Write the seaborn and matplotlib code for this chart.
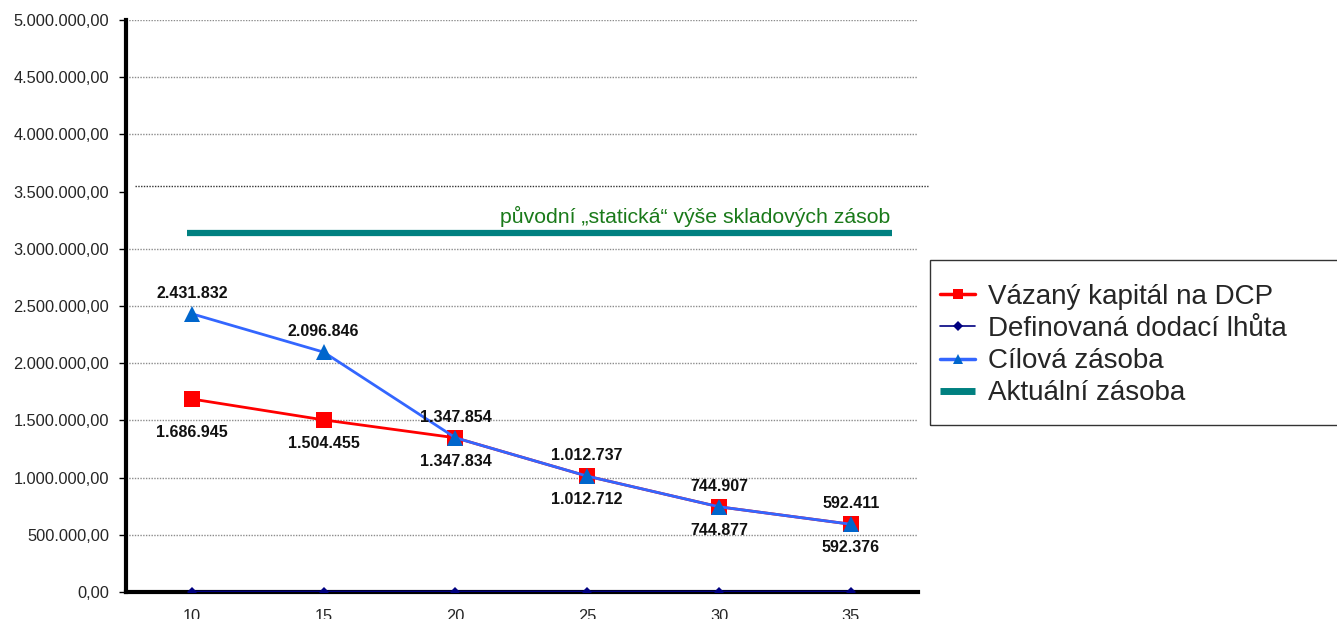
import matplotlib
matplotlib.use("Agg")
import matplotlib.pyplot as plt
from matplotlib.lines import Line2D
from matplotlib.patches import Rectangle
import seaborn as sns
import pandas as pd
import numpy as np

categories = ["10", "15", "20", "25", "30", "35"]
vazany_kapital = [1686945, 1504455, 1347834, 1012712, 744877, 592376]
cilova_zasoba = [2431832, 2096846, 1347854, 1012737, 744907, 592411]
dodaci_lhuta = [10, 15, 20, 25, 30, 35]
aktualni_zasoba = 3140000
yticks = [0, 500000, 1000000, 1500000, 2000000, 2500000, 3000000, 3500000,
          4000000, 4500000, 5000000]
note_text = "původní „statická“ výše skladových zásob"
legend_labels = ["Vázaný kapitál na DCP", "Definovaná dodací lhůta",
                 "Cílová zásoba", "Aktuální zásoba"]

sns.set_style("white")
plt.rcParams['font.family'] = ['Liberation Sans', 'DejaVu Sans']

W, H = 1337, 619
fig = plt.figure(figsize=(W / 100, H / 100), dpi=100)
ax = fig.add_axes([126 / W, (H - 592) / H, (918 - 126) / W, (592 - 20) / H])

xpos = np.arange(len(categories))
df = pd.DataFrame({"x": xpos, "red": vazany_kapital, "blue": cilova_zasoba,
                   "navy": dodaci_lhuta})


def fmt(v):
    return f"{v:,}".replace(",", ".")


# grid lines
for t in yticks:
    if t == 3500000:
        continue
    ax.axhline(t, color="#8c8c8c", lw=1.0, ls=(0, (1, 1)), zorder=0)
# shifted dotted line near 3.5M
ax.plot([135 / W, 928 / W], [(H - 186) / H, (H - 186) / H], transform=fig.transFigure,
        color="#333333", lw=1.0, ls=(0, (1, 1)), zorder=0, clip_on=False)

# static level
ax.hlines(aktualni_zasoba, -0.04, 5.31, color="#008080", lw=4.5, zorder=2,
          capstyle="butt")
ax.annotate(note_text, (5.31, aktualni_zasoba), xytext=(-1, 7), textcoords="offset points",
            color="#1a7a1a", fontsize=15.3, ha="right", va="baseline")

sns.lineplot(data=df, x="x", y="navy", ax=ax, color="#000080", lw=2.0,
             marker="D", markersize=5, markeredgewidth=0, zorder=3)
sns.lineplot(data=df, x="x", y="red", ax=ax, color="#ff0000", lw=2.0,
             marker="s", markersize=11, markeredgewidth=0, zorder=4)
sns.lineplot(data=df, x="x", y="blue", ax=ax, color="#3366ff", lw=2.0,
             marker="^", markersize=11, markerfacecolor="#0066cc",
             markeredgewidth=0, zorder=5)

for i in xpos:
    ax.annotate(fmt(cilova_zasoba[i]), (i, cilova_zasoba[i]), xytext=(0, 9.5),
                textcoords="offset points", ha="center", va="bottom",
                fontsize=11.5, fontweight="bold", color="#111111", zorder=6)
    dy = -19 if i == 0 else -11.5
    ax.annotate(fmt(vazany_kapital[i]), (i, vazany_kapital[i]), xytext=(0, dy),
                textcoords="offset points", ha="center", va="top",
                fontsize=11.5, fontweight="bold", color="#111111", zorder=6)

ax.set_xlim(-0.47, 5.51)
ax.set_ylim(0, 5000000)
ax.set_yticks(yticks)
ax.set_yticklabels([f"{t:,.2f}".replace(",", " ").replace(".", ",").replace(" ", ".")
                    for t in yticks])
ax.set_xticks(xpos)
ax.set_xticklabels(categories)
ax.set_xticks(np.arange(-0.5, 6.0, 1.0), minor=True)
ax.tick_params(axis="x", which="major", length=0, pad=12, labelsize=11.8)
ax.tick_params(axis="x", which="minor", length=4, width=1, color="black", direction="out")
ax.tick_params(axis="y", which="major", length=5, width=1, color="black",
               direction="out", labelsize=11.8, pad=7, left=True)
ax.set_xlabel("")
ax.set_ylabel("")

for s in ["top", "right"]:
    ax.spines[s].set_visible(False)
ax.spines["left"].set_linewidth(3)
ax.spines["bottom"].set_linewidth(3)
ax.spines["left"].set_color("black")
ax.spines["bottom"].set_color("black")

# legend frame
fig.patches.append(Rectangle((930 / W, (H - 425) / H), 420 / W, 165 / H,
                             transform=fig.transFigure, fill=False,
                             edgecolor="#333333", lw=1, zorder=1))

handles = [
    Line2D([], [], color="#ff0000", lw=2.5, marker="s", markersize=7, markeredgewidth=0),
    Line2D([], [], color="#000080", lw=1.2, marker="D", markersize=5, markeredgewidth=0),
    Line2D([], [], color="#3366ff", lw=2.5, marker="^", markersize=7,
           markerfacecolor="#0066cc", markeredgewidth=0),
    Line2D([], [], color="#008080", lw=5, solid_capstyle="butt"),
]
leg = fig.legend(handles, legend_labels, loc="upper left",
                 bbox_to_anchor=(940 / W, (H - 284) / H), fontsize=20,
                 frameon=False, handlelength=1.26, handletextpad=0.47,
                 labelspacing=0.22, borderpad=0, borderaxespad=0)

fig.savefig("out.png", dpi=100)
